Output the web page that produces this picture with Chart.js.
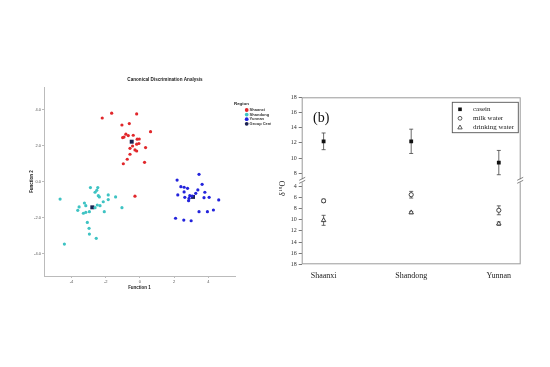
<!DOCTYPE html>
<html>
<head>
<meta charset="utf-8">
<script src="https://cdn.jsdelivr.net/npm/chart.js@4.4.1/dist/chart.umd.min.js"></script>
<style>
  html, body { margin: 0; padding: 0; background: #fff; }
  body { width: 550px; height: 367px; position: relative; overflow: hidden; }
  #leftWrap { position: absolute; left: 0; top: 60px; width: 271px; height: 240px; overflow: hidden; }
  #leftWrap canvas { position: absolute; left: 0; top: 0; }
  #rightWrap { position: absolute; left: 276px; top: 80px; width: 264px; height: 215px; }
</style>
</head>
<body>
<div id="leftWrap"><canvas id="cda" width="330" height="240"></canvas></div>
<div id="rightWrap"><canvas id="iso" width="264" height="215"></canvas></div>
<script>
// ---- left panel: canonical discriminant scores ----
const regionNames = ['Shaanxi', 'Shandong', 'Yunnan', 'Group Centroid'];
const regionColors = ['#e1272b', '#3ec3c3', '#2323dc', '#1a2050'];

const shaanxiF1 = [-2.20, -1.65, -0.19, -1.05, -0.62, 0.62, -0.82, -1.01, -0.68, -0.39, -0.93, -0.04, -0.16,
  -0.19, -0.43, -0.06, -0.58, 0.33, -0.29, -0.19, -0.58, -0.74, -0.97, 0.27, -0.29];
const shaanxiF2 = [3.55, 3.82, 3.78, 3.16, 3.24, 2.79, 2.65, 2.46, 2.57, 2.59, 2.49, 2.38, 2.37,
  2.09, 1.99, 2.13, 1.86, 1.90, 1.77, 1.71, 1.53, 1.25, 1.00, 1.08, -0.81];

const shandongF1 = [-2.89, -2.46, -2.52, -2.62, -2.43, -2.37, -1.85, -1.42, -1.85, -2.14, -4.66, -3.24, -3.16, -3.55,
  -3.63, -3.30, -3.16, -2.95, -2.62, -2.49, -2.08, -2.33, -1.05, -3.07, -2.97, -2.95, -2.55, -4.41];
const shandongF2 = [-0.33, -0.33, -0.48, -0.59, -0.78, -0.85, -0.74, -0.85, -1.00, -1.12, -0.97, -1.19, -1.34, -1.41,
  -1.60, -1.76, -1.71, -1.67, -1.45, -1.30, -1.67, -1.34, -1.45, -2.27, -2.60, -2.92, -3.16, -3.48];

const yunnanF1 = [3.45, 2.17, 3.63, 2.39, 2.58, 2.78, 3.38, 3.79, 2.58, 3.26, 2.21, 2.91, 3.05, 2.62,
  2.87, 3.74, 4.04, 4.60, 2.84, 3.45, 3.94, 4.29, 2.08, 2.56, 2.99];
const yunnanF2 = [0.41, 0.09, -0.15, -0.28, -0.31, -0.37, -0.46, -0.59, -0.57, -0.65, -0.74, -0.78, -0.80, -0.87,
  -0.93, -0.89, -0.87, -1.02, -1.06, -1.67, -1.67, -1.58, -2.04, -2.14, -2.18];

const centroidF1 = [-0.48, -2.78, 3.10];
const centroidF2 = [2.23, -1.43, -0.85];

const f1Ticks = [-4, -2, 0, 2, 4];
const f2Ticks = [-4, -2, 0, 2, 4];
const f1Range = [-5.6, 5.55];
const f2Range = [-5.26, 5.28];

// ---- right panel: d18O by region ----
const sites = ['Shaanxi', 'Shandong', 'Yunnan'];
const caseinMean = [12.2, 12.2, 9.4];
const caseinSd = [1.1, 1.6, 1.6];
const milkMean = [6.6, 5.5, 8.3];
const milkSd = [0.3, 0.6, 0.8];
const drinkMean = [10.1, 8.7, 10.7];
const drinkSd = [0.9, 0.2, 0.3];
const upperTicks = [8, 10, 12, 14, 16, 18];
const lowerTicks = [4, 6, 8, 10, 12, 14, 16, 18];

const toPoints = (xs, ys) => xs.map((x, i) => ({ x, y: ys[i] }));

Chart.defaults.font.family = '"Liberation Sans", Arial, sans-serif';

const cdaDecor = {
  id: 'cdaDecor',
  afterDraw(chart) {
    const { ctx } = chart;
    ctx.save();
    ctx.fillStyle = '#222';
    ctx.font = 'bold 4.6px "Liberation Sans"';
    ctx.textAlign = 'center';
    ctx.textBaseline = 'middle';
    ctx.fillText('Canonical Discrimination Analysis', 165, 20);

    // legend
    ctx.textAlign = 'left';
    ctx.font = 'bold 4.4px "Liberation Sans"';
    ctx.fillText('Region', 234, 44);
    chart.data.datasets.forEach((ds, i) => {
      const y = 50 + i * 4.6;
      ctx.fillStyle = ds.backgroundColor;
      ctx.beginPath();
      ctx.arc(246.7, y, 1.9, 0, Math.PI * 2);
      ctx.fill();
      ctx.fillStyle = '#333';
      ctx.font = 'bold 4px "Liberation Sans"';
      ctx.fillText(ds.label, 249.6, y);
    });
    ctx.restore();
  }
};

new Chart(document.getElementById('cda'), {
  type: 'scatter',
  data: {
    datasets: [
      { label: regionNames[0], data: toPoints(shaanxiF1, shaanxiF2), backgroundColor: regionColors[0], pointRadius: 1.6 },
      { label: regionNames[1], data: toPoints(shandongF1, shandongF2), backgroundColor: regionColors[1], pointRadius: 1.6 },
      { label: regionNames[2], data: toPoints(yunnanF1, yunnanF2), backgroundColor: regionColors[2], pointRadius: 1.6 },
      { label: regionNames[3], data: toPoints(centroidF1, centroidF2), backgroundColor: regionColors[3], pointStyle: 'rect', pointRadius: 2.8 }
    ]
  },
  options: {
    responsive: false,
    animation: false,
    events: [],
    layout: { padding: { top: 27, right: 95, left: 0, bottom: 0 } },
    elements: { point: { borderWidth: 0 } },
    plugins: { legend: { display: false }, tooltip: { enabled: false } },
    scales: {
      x: {
        type: 'linear', min: f1Range[0], max: f1Range[1],
        afterBuildTicks: (s) => { s.ticks = f1Ticks.map((v) => ({ value: v })); },
        afterFit: (s) => { s.height = 24; },
        grid: { drawOnChartArea: false, tickLength: 2, color: '#bbb' },
        border: { color: '#bbb' },
        ticks: { font: { size: 4 }, color: '#555', padding: 1 },
        title: { display: true, text: 'Function 1', color: '#222', font: { size: 4.5, weight: 'bold' }, padding: { top: 0, bottom: 9.6 } }
      },
      y: {
        type: 'linear', min: f2Range[0], max: f2Range[1],
        afterBuildTicks: (s) => { s.ticks = f2Ticks.map((v) => ({ value: v })); },
        afterFit: (s) => { s.width = 44; },
        grid: { drawOnChartArea: false, tickLength: 2, color: '#bbb' },
        border: { color: '#bbb' },
        ticks: { font: { size: 4 }, color: '#555', padding: 1, callback: (v) => v.toFixed(1) },
        title: { display: true, text: 'Function 2', color: '#222', font: { size: 4.5, weight: 'bold' }, padding: { top: 29, bottom: 0 } }
      }
    }
  },
  plugins: [cdaDecor]
});

// ---- right chart ----
const isoDecor = {
  id: 'isoDecor',
  beforeDatasetsDraw(chart) {
    const { ctx } = chart;
    const xs = chart.scales.x;
    ctx.save();
    ctx.strokeStyle = '#444';
    ctx.lineWidth = 0.8;
    chart.data.datasets.forEach((ds) => {
      const ys = chart.scales[ds.yAxisID];
      ds.data.forEach((p, j) => {
        const e = ds.errors[j];
        const x = xs.getPixelForValue(p.x);
        const a = ys.getPixelForValue(p.y - e);
        const b = ys.getPixelForValue(p.y + e);
        ctx.beginPath();
        ctx.moveTo(x, a); ctx.lineTo(x, b);
        ctx.moveTo(x - 2, a); ctx.lineTo(x + 2, a);
        ctx.moveTo(x - 2, b); ctx.lineTo(x + 2, b);
        ctx.stroke();
      });
    });
    ctx.restore();
  },
  afterDraw(chart) {
    const { ctx, chartArea: ca } = chart;
    const brk = chart.scales.yHigh.bottom;
    ctx.save();
    // frame
    ctx.strokeStyle = '#9a9a9a';
    ctx.lineWidth = 1;
    ctx.strokeRect(ca.left + 0.5, ca.top + 0.5, ca.right - ca.left - 1, ca.bottom - ca.top - 1);
    // axis breaks
    [ca.left + 0.5, ca.right - 0.5].forEach((x) => {
      ctx.fillStyle = '#fff';
      ctx.fillRect(x - 1.5, brk - 1.5, 3, 3);
      ctx.strokeStyle = '#666';
      ctx.lineWidth = 0.8;
      ctx.beginPath();
      ctx.moveTo(x - 3, brk - 0.5); ctx.lineTo(x + 3, brk - 3.5);
      ctx.moveTo(x - 3, brk + 2.5); ctx.lineTo(x + 3, brk - 0.5);
      ctx.stroke();
    });
    // panel tag
    ctx.fillStyle = '#111';
    ctx.font = '14px "Liberation Serif"';
    ctx.textAlign = 'left';
    ctx.textBaseline = 'middle';
    ctx.fillText('(b)', 37, 38.5);
    // y title
    ctx.translate(7, 108);
    ctx.rotate(-Math.PI / 2);
    ctx.font = '8px "Liberation Serif"';
    ctx.fillStyle = '#222';
    ctx.textAlign = 'left';
    const w1 = ctx.measureText('\u03b4').width;
    ctx.fillText('\u03b4', -8, 0);
    ctx.font = '5px "Liberation Serif"';
    ctx.fillText('18', -8 + w1 + 0.4, -2.5);
    const w2 = ctx.measureText('18').width;
    ctx.font = '8px "Liberation Serif"';
    ctx.fillText('O', -8 + w1 + w2 + 0.8, 0);
    ctx.restore();

    // legend box
    ctx.save();
    ctx.fillStyle = '#fff';
    ctx.fillRect(176.3, 22.3, 66, 30.4);
    ctx.strokeStyle = '#555';
    ctx.lineWidth = 0.9;
    ctx.strokeRect(176.3, 22.3, 66, 30.4);
    chart.data.datasets.forEach((ds, i) => {
      const y = 29.3 + i * 9;
      const x = 184;
      ctx.fillStyle = ds.backgroundColor;
      ctx.strokeStyle = ds.borderColor;
      ctx.lineWidth = 0.8;
      ctx.beginPath();
      if (ds.pointStyle === 'rect') {
        ctx.rect(x - 1.8, y - 1.8, 3.6, 3.6);
        ctx.fill();
      } else if (ds.pointStyle === 'circle') {
        ctx.arc(x, y, 1.9, 0, Math.PI * 2);
        ctx.fill(); ctx.stroke();
      } else {
        ctx.moveTo(x, y - 2.3); ctx.lineTo(x + 2.2, y + 1.6); ctx.lineTo(x - 2.2, y + 1.6); ctx.closePath();
        ctx.fill(); ctx.stroke();
      }
      ctx.fillStyle = '#222';
      ctx.font = '7px "Liberation Serif"';
      ctx.textAlign = 'left';
      ctx.textBaseline = 'middle';
      ctx.fillText(ds.label, 197, y);
    });
    ctx.restore();
  }
};

const serif = '"Liberation Serif", "Times New Roman", serif';
const yTickOpts = { font: { family: serif, size: 6 }, color: '#333', padding: 2, autoSkip: false };

new Chart(document.getElementById('iso'), {
  type: 'scatter',
  data: {
    datasets: [
      { label: 'casein', data: toPoints([1, 2, 3], caseinMean), errors: caseinSd, yAxisID: 'yHigh',
        pointStyle: 'rect', pointRadius: 2.7, backgroundColor: '#111', borderColor: '#111', borderWidth: 0 },
      { label: 'milk water', data: toPoints([1, 2, 3], milkMean), errors: milkSd, yAxisID: 'yLow',
        pointStyle: 'circle', pointRadius: 2.1, backgroundColor: '#fff', borderColor: '#333', borderWidth: 0.9 },
      { label: 'drinking water', data: toPoints([1, 2, 3], drinkMean), errors: drinkSd, yAxisID: 'yLow',
        pointStyle: 'triangle', pointRadius: 2.6, backgroundColor: '#fff', borderColor: '#333', borderWidth: 0.9 }
    ]
  },
  options: {
    responsive: false,
    animation: false,
    events: [],
    layout: { padding: { top: 17.3, right: 19.3, left: 0, bottom: 0 } },
    plugins: { legend: { display: false }, tooltip: { enabled: false } },
    scales: {
      x: {
        type: 'linear', min: 0.75, max: 3.25,
        afterBuildTicks: (s) => { s.ticks = sites.map((_, i) => ({ value: i + 1 })); },
        afterFit: (s) => { s.height = 30.7; },
        grid: { display: false, drawTicks: false },
        border: { display: false },
        ticks: { font: { family: serif, size: 8 }, color: '#222', padding: 7, maxRotation: 0, autoSkip: false,
          callback: (v) => sites[v - 1] }
      },
      // lower (water) segment is declared first so the layout stacks it below
      yLow: {
        type: 'linear', position: 'left', stack: 'd18o', stackWeight: 1, min: 3, max: 18, reverse: true,
        afterBuildTicks: (s) => { s.ticks = lowerTicks.map((v) => ({ value: v })); },
        afterFit: (s) => { s.width = 25.7; },
        grid: { drawOnChartArea: false, tickLength: 3, color: '#777' },
        border: { display: false },
        ticks: yTickOpts
      },
      yHigh: {
        type: 'linear', position: 'left', stack: 'd18o', stackWeight: 1, min: 7, max: 18,
        afterBuildTicks: (s) => { s.ticks = upperTicks.map((v) => ({ value: v })); },
        afterFit: (s) => { s.width = 25.7; },
        grid: { drawOnChartArea: false, tickLength: 3, color: '#777' },
        border: { display: false },
        ticks: yTickOpts
      }
    }
  },
  plugins: [isoDecor]
});
</script>
</body>
</html>
